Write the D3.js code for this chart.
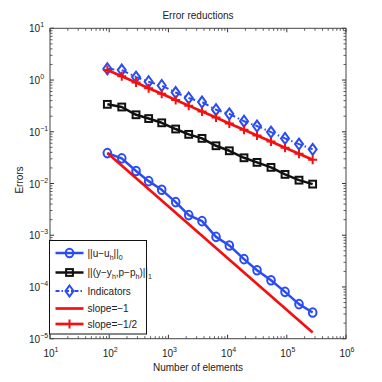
<!DOCTYPE html>
<html><head><meta charset="utf-8">
<script src="https://cdn.jsdelivr.net/npm/d3@7"></script>
<style>html,body{margin:0;padding:0;background:#fff}svg{display:block}text{font-family:"Liberation Sans",Arial,sans-serif;fill:#222}</style>
</head><body>
<svg id="c" width="382" height="382"></svg>
<script>
const elements = [93, 163, 284, 464, 771, 1327, 2203, 3698, 6370, 10690, 18920, 31400, 54100, 93300, 160700, 273500];
const errU = [0.0387, 0.0306, 0.0174, 0.0111, 0.00755, 0.00437, 0.00245, 0.00187, 0.00093, 0.000635, 0.000345, 0.000211, 0.000135, 8.04e-5, 4.65e-5, 3.21e-5];
const errYP = [0.339, 0.301, 0.213, 0.180, 0.149, 0.113, 0.0891, 0.0745, 0.0536, 0.0429, 0.0314, 0.0256, 0.0205, 0.0150, 0.0116, 0.00973];
const indicators = [1.65, 1.56, 1.14, 0.927, 0.783, 0.573, 0.449, 0.375, 0.267, 0.222, 0.160, 0.129, 0.0986, 0.0745, 0.0578, 0.0457];
const slopeOneN = [93, 273500];
const slopeOne = [0.0387, 1.32e-5];
const slopeHalf = [1.56, 1.179, 0.892, 0.697, 0.541, 0.413, 0.320, 0.247, 0.188, 0.145, 0.109, 0.0848, 0.0646, 0.0492, 0.0375, 0.0287];
const xTickExp = [1, 2, 3, 4, 5, 6];
const yTickExp = [1, 0, -1, -2, -3, -4, -5];
const legendLabels = [
  [["||u\u2212u",0],["h",1],["||",0],["0",1]],
  [["||(y\u2212y",0],["h",1],[",p\u2212p",0],["h",1],[")||",0],["1",1]],
  [["Indicators",0]],
  [["slope=\u22121",0]],
  [["slope=\u22121/2",0]]
];

const blue = "#2a4cf5", red = "#f51010", black = "#111";
const svg = d3.select("#c");
const L = 50, R = 346, T = 28.3, B = 338.7;
const x = d3.scaleLog().domain([10, 1e6]).range([L, R]);
const y = d3.scaleLog().domain([1e-5, 10]).range([B, T]);

// ticks
const g = svg.append("g");
const tickCol = "#333";
const major = 4, minor = 2.5;
function minorVals(lo, hi) { const v=[]; for (let e=lo;e<hi;e++) for (let m=2;m<=9;m++) v.push(m*Math.pow(10,e)); return v; }
const xMin = minorVals(1,6), yMin = minorVals(-5,1);
xTickExp.forEach(e => {
  const px = x(Math.pow(10,e));
  g.append("line").attr("x1",px).attr("x2",px).attr("y1",B).attr("y2",B-major).attr("stroke",tickCol);
  g.append("line").attr("x1",px).attr("x2",px).attr("y1",T).attr("y2",T+major).attr("stroke",tickCol);
});
xMin.forEach(v => {
  const px = x(v);
  g.append("line").attr("x1",px).attr("x2",px).attr("y1",B).attr("y2",B-minor).attr("stroke",tickCol).attr("stroke-width",0.8);
  g.append("line").attr("x1",px).attr("x2",px).attr("y1",T).attr("y2",T+minor).attr("stroke",tickCol).attr("stroke-width",0.8);
});
yTickExp.forEach(e => {
  const py = y(Math.pow(10,e));
  g.append("line").attr("x1",L).attr("x2",L+major).attr("y1",py).attr("y2",py).attr("stroke",tickCol);
  g.append("line").attr("x1",R).attr("x2",R-major).attr("y1",py).attr("y2",py).attr("stroke",tickCol);
});
yMin.forEach(v => {
  const py = y(v);
  g.append("line").attr("x1",L).attr("x2",L+minor).attr("y1",py).attr("y2",py).attr("stroke",tickCol).attr("stroke-width",0.8);
  g.append("line").attr("x1",R).attr("x2",R-minor).attr("y1",py).attr("y2",py).attr("stroke",tickCol).attr("stroke-width",0.8);
});
g.append("rect").attr("x",L).attr("y",T).attr("width",R-L).attr("height",B-T).attr("fill","none").attr("stroke","#444").attr("stroke-width",1);

// tick labels
function powLabel(sel, e) {
  sel.append("tspan").text("10");
  sel.append("tspan").attr("baseline-shift","5").attr("font-size",7).text(String(e).replace("-","\u2212"));
}
xTickExp.forEach(e => {
  const t = svg.append("text").attr("x",x(Math.pow(10,e))+1).attr("y",357).attr("font-size",10).attr("text-anchor","middle");
  powLabel(t,e);
});
yTickExp.forEach(e => {
  const t = svg.append("text").attr("x",29).attr("y",y(Math.pow(10,e))+4).attr("font-size",10);
  powLabel(t,e);
});

// titles
svg.append("text").attr("x",198).attr("y",19).attr("text-anchor","middle").attr("font-size",10).text("Error reductions");
svg.append("text").attr("x",198).attr("y",371).attr("text-anchor","middle").attr("font-size",10).text("Number of elements");
svg.append("text").attr("transform","translate(23,180) rotate(-90)").attr("text-anchor","middle").attr("font-size",10).text("Errors");

// markers
function circ(sel,cx,cy,col){ sel.append("ellipse").attr("cx",cx).attr("cy",cy).attr("rx",3.8).attr("ry",4.3).attr("fill","none").attr("stroke",col).attr("stroke-width",2); }
function sq(sel,cx,cy,col){ sel.append("rect").attr("x",cx-3.4).attr("y",cy-3.4).attr("width",6.8).attr("height",6.8).attr("fill","none").attr("stroke",col).attr("stroke-width",2); }
function dia(sel,cx,cy,col){ sel.append("path").attr("d",`M${cx},${cy-5.5}L${cx+4},${cy}L${cx},${cy+5.5}L${cx-4},${cy}Z`).attr("fill","none").attr("stroke",col).attr("stroke-width",2); }
function plus(sel,cx,cy,col){ sel.append("path").attr("d",`M${cx-4.5},${cy}H${cx+4.5}M${cx},${cy-4.5}V${cy+4.5}`).attr("stroke",col).attr("stroke-width",2); }

const line = d3.line().x(d=>x(d[0])).y(d=>y(d[1]));
const plot = svg.append("g");
function series(xs, vs, col, width, dash, marker) {
  const pts = xs.map((n,i)=>[n,vs[i]]);
  plot.append("path").attr("d",line(pts)).attr("fill","none").attr("stroke",col).attr("stroke-width",width)
    .attr("stroke-dasharray",dash||null).attr("stroke-linejoin","round");
  if (marker) pts.forEach(p=>marker(plot,x(p[0]),y(p[1]),col));
}
series(elements, errU, blue, 2.5, null, circ);
series(elements, errYP, black, 2.5, null, sq);
series(elements, indicators, blue, 2, "7,3,1.5,3", dia);
series(slopeOneN, slopeOne, red, 2.7, null, null);
series(elements, slopeHalf, red, 2.7, null, plus);

// legend
const lg = svg.append("g");
lg.append("rect").attr("x",49.5).attr("y",240.5).attr("width",97).attr("height",93.5).attr("fill","#fff").attr("stroke","#111").attr("stroke-width",1);
const ly = [253, 272.5, 291, 308.5, 324];
const lstyle = [[blue,2.5,null,circ],[black,2.5,null,sq],[blue,2,"4,2,1.5,2",dia],[red,2.7,null,null],[red,2.7,null,plus]];
ly.forEach((yy,i)=>{
  const [col,w,dash,mk] = lstyle[i];
  lg.append("line").attr("x1",55.5).attr("x2",83.5).attr("y1",yy).attr("y2",yy).attr("stroke",col).attr("stroke-width",w).attr("stroke-dasharray",dash);
  if (mk) mk(lg,69.5,yy,col);
  const t = lg.append("text").attr("x",87.5).attr("y",yy+3.5).attr("font-size",10);
  legendLabels[i].forEach(([s,sub])=>{
    const ts = t.append("tspan").text(s);
    if (sub) ts.attr("baseline-shift","-3").attr("font-size",7);
  });
});
</script>
</body></html>
